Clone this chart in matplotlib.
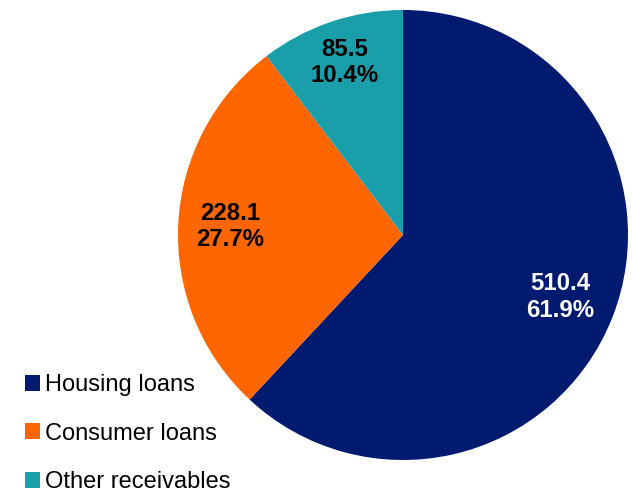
import matplotlib
matplotlib.use("Agg")
import matplotlib.pyplot as plt
import numpy as np

plt.rcParams['font.family'] = ['Liberation Sans', 'DejaVu Sans']

categories = ["Housing loans", "Consumer loans", "Other receivables"]
values = [510.4, 228.1, 85.5]
colors = ["#001A70", "#FF6600", "#1A9FAA"]
label_colors = ["white", "black", "black"]
label_dist = [0.75, 0.77, 0.81]

fig = plt.figure(figsize=(6.32, 4.92), dpi=100)
W, H = 632, 492
cx, cy, r = 403, 235, 225
ax = fig.add_axes([(cx - r) / W, (H - cy - r) / H, 2 * r / W, 2 * r / H])

wedges, _ = ax.pie(values, colors=colors, startangle=90, counterclock=False,
                   radius=1, wedgeprops=dict(linewidth=0))
ax.set_xlim(-1, 1)
ax.set_ylim(-1, 1)
ax.set_aspect('equal')
ax.axis('off')

total = sum(values)
for w, v, tc, d in zip(wedges, values, label_colors, label_dist):
    ang = np.deg2rad((w.theta1 + w.theta2) / 2)
    ax.text(d * np.cos(ang), d * np.sin(ang), f"{v:.1f}\n{100 * v / total:.1f}%",
            ha='center', va='center', fontsize=17.3, fontweight='bold',
            color=tc, linespacing=1.2)

fig.legend(wedges, categories, loc='lower left', bbox_to_anchor=(25 / W, -0.002),
           bbox_transform=fig.transFigure, frameon=False, fontsize=17,
           handlelength=0.65, handleheight=0.65, handletextpad=0.2,
           labelspacing=1.12, borderpad=0, borderaxespad=0)

fig.savefig("out.png", dpi=100)
